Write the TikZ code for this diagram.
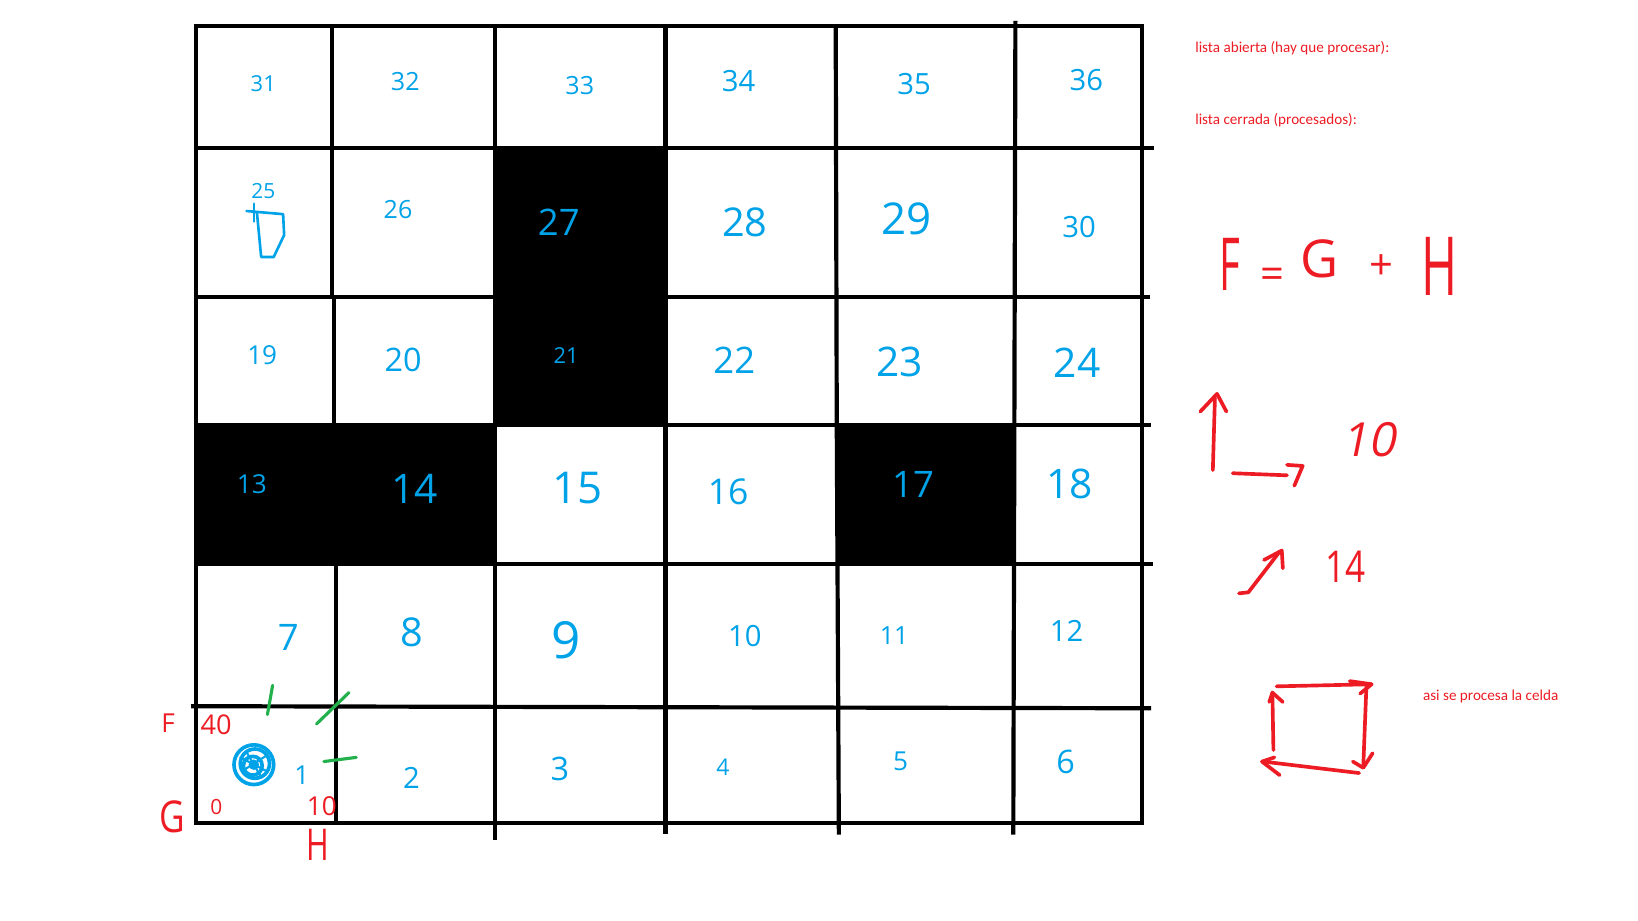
\documentclass[tikz,border=0pt]{standalone}
\usepackage{fontspec}
\setmainfont{Open Sans}
\newfontfamily\calfont{Carlito}
\usetikzlibrary{arrows.meta}
\definecolor{pblue}{RGB}{0,162,232}
\definecolor{pred}{RGB}{237,28,36}
\definecolor{pgreen}{RGB}{34,177,76}
\tikzset{
 gridline/.style={line width=4pt, line cap=rect},
 num/.style={text=pblue, inner sep=0pt, font=\fontsize{#1}{#1}\selectfont},
 rednum/.style={text=pred, inner sep=0pt, font=\fontsize{#1}{#1}\selectfont},
 note/.style={text=pred, inner sep=0pt, anchor=west, font=\calfont\fontsize{14.5}{17}\selectfont},
 redpen/.style={draw=pred, line width=3.5pt, line cap=round, line join=round},
 greenpen/.style={draw=pgreen, line width=3pt, line cap=round},
 bluepen/.style={draw=pblue, line width=3pt, line cap=round, line join=round},
}
\begin{document}
\begin{tikzpicture}[x=1pt,y=-1pt]
\useasboundingbox[fill=white] (0,0) rectangle (1568,881);
% blocked cells
\fill (474,142) rectangle (637,407);
\fill (188,407) rectangle (474,540);
\fill (800,407) rectangle (972,540);
% grid
\draw[gridline] (188,25) -- (1093,25);
\draw[gridline] (188,142) -- (1103,142);
\draw[gridline] (188,284) -- (1099,284);
\draw[gridline] (188,407) -- (1100,407);
\draw[gridline] (188,540) -- (1102,540);
\draw[gridline] (185,676) -- (1100,678);
\draw[gridline] (188,788) -- (1093,788);
\draw[gridline] (188,25) -- (188,788);
\draw[gridline] (318,25) -- (318,284) -- (320,284) -- (320,540) -- (322,540) -- (322,788);
\draw[gridline] (474,25) -- (474,802);
\draw[gridline] (637,25) -- (637,796);
\draw[gridline] (800,25) -- (801,407) -- (803,797);
\draw[gridline] (972,22) -- (970,797);
\draw[gridline] (1093,25) -- (1093,788);
% cell numbers
\node[num=21] (n31) at (252,80) {31};
\node[num=24] (n32) at (388,78) {32};
\node[num=24] (n33) at (555,82) {33};
\node[num=28] (n34) at (707,78) {34};
\node[num=28] (n35) at (875,80) {35};
\node[num=28] (n36) at (1040,77) {36};
\node[num=20] (n25) at (252,183) {25};
\node[num=24] (n26) at (381,201) {26};
\node[num=35] (n27) at (535,213) {27};
\node[num=38] (n28) at (713,213) {28};
\node[num=42] (n29) at (868,209) {29};
\node[num=28] (n30) at (1033,217) {30};
\node[num=25] (n19) at (251,340) {19};
\node[num=31] (n20) at (386,345) {20};
\node[num=21] (n21) at (542,340) {21};
\node[num=35] (n22) at (703,345) {22};
\node[num=39] (n23) at (861,346) {23};
\node[num=39] (n24) at (1031,347) {24};
\node[num=25] (n13) at (241,463) {13};
\node[num=39] (n14) at (397,468) {14};
\node[num=42] (n15) at (553,467) {15};
\node[num=34] (n16) at (697,471) {16};
\node[num=35] (n17) at (874,464) {17};
\node[num=39] (n18) at (1024,463) {18};
\node[num=35] (n7) at (276,610) {7};
\node[num=38] (n8) at (394,605) {8};
\node[num=49] (n9) at (542,613) {9};
\node[num=28] (n10) at (713,609) {10};
\node[num=24] (n11) at (856,608) {11};
\node[num=28] (n12) at (1021,604) {12};
\node[num=25] (n1) at (289,742) {1};
\node[num=28] (n2) at (394,745) {2};
\node[num=31] (n3) at (536,736) {3};
\node[num=22] (n4) at (692,734) {4};
\node[num=25] (n5) at (862,729) {5};
\node[num=31] (n6) at (1020,729) {6};
% sketch in cell 25
\draw[bluepen, line width=2.5pt] (243,195) -- (243,212);
\draw[bluepen, line width=2.5pt] (236,202) -- (271,205) -- (272,225) -- (262,246) -- (250,246) -- (246,204);
% start marker (scribbled circle)
\draw[bluepen, line width=3.5pt] (243,732) circle (19);
\draw[bluepen, line width=3.5pt] (244,731) circle (14);
\draw[bluepen, line width=3.5pt] (242,733) circle (9);
\fill[pblue] (243,732) circle (5);
\draw[bluepen, line width=2pt] (230,725) -- (255,738) (232,738) -- (254,724) (236,720) -- (250,744);
% green ticks
\draw[greenpen] (261,656) -- (256,684);
\draw[greenpen] (334,663) -- (303,693);
\draw[greenpen] (310,729) -- (341,725);
% F G H annotations at start cell
\node[rednum=25] (aF) at (161,692) {F};
\node[rednum=26] (a40) at (207,694) {40};
\node[rednum=42, xscale=0.8] (aG) at (165,782) {G};
\node[rednum=20] (a0) at (207,773) {0};
\node[rednum=25] (a10) at (308,772) {10};
\node[rednum=42, xscale=0.7] (aH) at (304,809) {H};
% notes
\node[note] (open) at (1144,46) {lista abierta (hay que procesar):};
\node[note] (closed) at (1144,115) {lista cerrada (procesados):};
\node[note] (proc) at (1362,667) {asi se procesa la celda};
% formula
\node[rednum=70, xscale=0.55] (fF) at (1177,253) {F};
\node[rednum=40] (feq) at (1218,266) {=};
\node[rednum=50] (fG) at (1263,248) {G};
\node[rednum=40] (fplus) at (1322,256) {+};
\node[rednum=78, xscale=0.6] (fH) at (1378,255) {H};
% costs
\draw[redpen] (1161,450) -- (1163,381);
\draw[redpen] (1149,394) -- (1165,377) -- (1174,394);
\draw[redpen] (1180,453) -- (1232,455);
\draw[redpen] (1232,445) -- (1247,446) -- (1239,465);
\node[rednum=45, xslant=0.2] (c10) at (1313,421) {10};
\draw[redpen] (1186,568) -- (1195,567) -- (1225,528);
\draw[redpen] (1210,536) -- (1227,527) -- (1228,544);
\node[rednum=42, xscale=0.8] (c14) at (1288,543) {14};
% processing cycle
\draw[redpen] (1222,657) -- (1313,655) -- (1302,664);
\draw[redpen] (1292,652) -- (1313,655);
\draw[redpen] (1308,657) -- (1305,734);
\draw[redpen] (1295,729) -- (1305,735) -- (1314,721);
\draw[redpen] (1301,740) -- (1209,729);
\draw[redpen] (1220,725) -- (1208,729) -- (1225,742);
\draw[redpen] (1219,718) -- (1218,663);
\draw[redpen] (1215,672) -- (1218,663) -- (1228,672);
\end{tikzpicture}
\end{document}
